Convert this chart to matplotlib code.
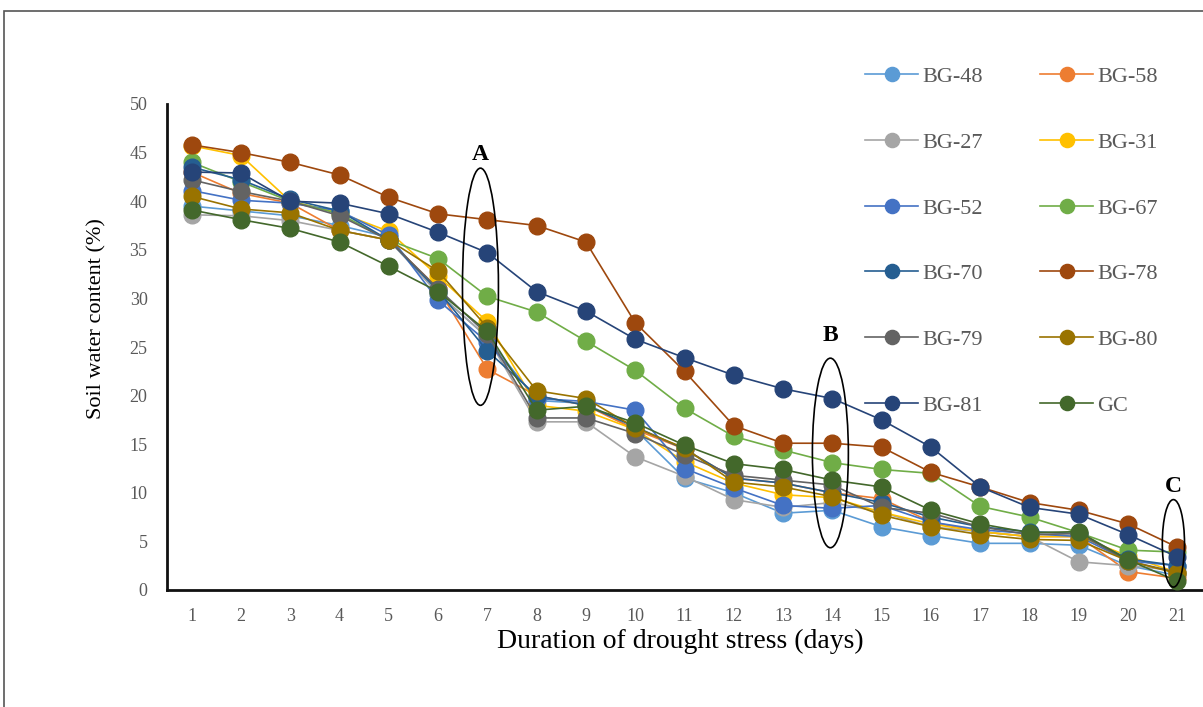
import numpy as np
import matplotlib
matplotlib.use("Agg")
import matplotlib.pyplot as plt
from matplotlib.patches import Ellipse, Rectangle

plt.rcParams["font.family"] = ["Liberation Serif", "DejaVu Serif"]

days = list(range(1, 22))

# soil water content (%) per genotype, days 1..21
bg48 = [39.5, 39.0, 38.5, 37.5, 36.3, 30.5, 26.0, 19.5, 19.2, 16.5, 11.5, 10.0, 7.9, 8.2, 6.5, 5.6, 4.8, 4.8, 4.6, 2.5, 1.5]
bg58 = [43.0, 40.8, 39.8, 37.0, 36.0, 31.0, 22.7, 20.0, 19.0, 16.5, 14.5, 11.5, 11.0, 10.0, 9.4, 7.0, 6.0, 5.5, 5.5, 1.9, 1.2]
bg27 = [38.6, 38.5, 38.0, 37.0, 36.0, 30.5, 26.0, 17.3, 17.3, 13.7, 11.7, 9.3, 8.5, 9.0, 8.0, 6.5, 6.0, 5.5, 2.9, 2.5, 2.0]
bg31 = [45.7, 44.7, 40.0, 38.8, 36.9, 32.3, 27.6, 19.0, 18.4, 16.5, 13.2, 11.0, 9.8, 9.5, 8.0, 6.8, 6.0, 5.5, 5.5, 3.5, 1.8]
bg52 = [41.1, 40.1, 39.8, 39.0, 36.5, 29.8, 25.5, 19.7, 19.4, 18.5, 12.5, 10.5, 8.7, 8.4, 8.7, 7.0, 6.2, 5.8, 5.5, 3.0, 2.5]
bg67 = [44.0, 42.0, 40.0, 38.7, 36.0, 34.1, 30.2, 28.6, 25.6, 22.6, 18.7, 15.8, 14.4, 13.1, 12.4, 12.0, 8.6, 7.5, 5.9, 4.1, 3.9]
bg70 = [43.5, 42.2, 40.2, 39.0, 36.0, 30.8, 24.6, 20.0, 19.0, 16.8, 14.5, 11.5, 11.0, 10.0, 9.0, 7.5, 6.5, 6.0, 5.8, 3.2, 2.5]
bg78 = [45.8, 45.0, 44.0, 42.7, 40.4, 38.7, 38.1, 37.5, 35.8, 27.5, 22.5, 16.9, 15.1, 15.1, 14.7, 12.1, 10.6, 9.0, 8.2, 6.8, 4.4]
bg79 = [42.2, 41.0, 40.0, 38.5, 36.0, 31.0, 26.3, 17.7, 17.7, 16.1, 13.9, 11.8, 11.3, 10.8, 8.5, 7.9, 6.5, 5.7, 5.8, 3.0, 1.8]
bg80 = [40.5, 39.2, 38.8, 37.0, 36.0, 32.8, 27.0, 20.5, 19.7, 16.7, 14.6, 11.1, 10.6, 9.6, 7.7, 6.5, 5.7, 5.2, 5.1, 3.0, 1.7]
bg81 = [43.0, 42.9, 40.0, 39.8, 38.7, 36.8, 34.7, 30.7, 28.7, 25.8, 23.9, 22.1, 20.7, 19.7, 17.5, 14.7, 10.6, 8.5, 7.8, 5.7, 3.4]
gc = [39.1, 38.1, 37.2, 35.8, 33.3, 30.7, 26.6, 18.5, 18.9, 17.2, 14.9, 13.0, 12.4, 11.3, 10.6, 8.2, 6.8, 5.9, 6.0, 3.1, 0.9]

labels = ["BG-48", "BG-58", "BG-27", "BG-31", "BG-52", "BG-67",
          "BG-70", "BG-78", "BG-79", "BG-80", "BG-81", "GC"]
series = [bg48, bg58, bg27, bg31, bg52, bg67, bg70, bg78, bg79, bg80, bg81, gc]
colors = ["#5B9BD5", "#ED7D31", "#A5A5A5", "#FFC000", "#4472C4", "#70AD47",
          "#255E91", "#9E480E", "#636363", "#997300", "#264478", "#43682B"]

fig = plt.figure(figsize=(12.03, 7.07), dpi=100)
ax = fig.add_axes([167 / 1203, 1 - 590 / 707, (1202 - 167) / 1203, (590 - 104) / 707])

handles = []
for i, (lab, vals, col) in enumerate(zip(labels, series, colors)):
    h, = ax.plot(days, vals, color=col, lw=1.2, marker="o", ms=12, mec=col, mfc=col,
                 label=lab, zorder=3 + i, clip_on=False)
    handles.append(h)

ax.set_xlim(0.5, 21.5)
ax.set_ylim(0, 50)
ax.set_xticks(days)
ax.set_xticklabels([str(d) for d in days])
ax.set_yticks(range(0, 51, 5))
ax.tick_params(axis="x", length=0, pad=13, labelsize=13, labelcolor="#595959")
ax.tick_params(axis="y", length=0, pad=14, labelsize=13, labelcolor="#595959")

for s in ["top", "right"]:
    ax.spines[s].set_visible(False)
for s in ["left", "bottom"]:
    ax.spines[s].set_linewidth(2)
    ax.spines[s].set_color("#111111")

ax.set_xlabel("Duration of drought stress (days)", fontsize=20)
ax.xaxis.label.set_va("center")
ax.xaxis.set_label_coords(0.4957, -0.1055)
ax.set_ylabel("Soil water content (%)", fontsize=16)
ax.yaxis.set_label_coords(-0.058, 0.558)

# highlighted sampling days
marks = [("A", 6.86, 31.2, 0.73, 24.4, 44.8),
         ("B", 13.96, 14.1, 0.73, 19.5, 26.2),
         ("C", 20.92, 4.8, 0.45, 9.0, 10.6)]
for txt, xc, yc, w, h, ty in marks:
    ax.add_patch(Ellipse((xc, yc), w, h, fill=False, ec="black", lw=1.2,
                         zorder=20, clip_on=False))
    ax.text(xc, ty, txt, ha="center", va="center",
            fontsize=17, fontweight="bold", zorder=21)

# legend filled row by row
order = [0, 2, 4, 6, 8, 10, 1, 3, 5, 7, 9, 11]
leg = ax.legend([handles[k] for k in order], [labels[k] for k in order],
                ncol=2, loc="upper left", bbox_to_anchor=(0.655, 1.118),
                frameon=False, fontsize=16, labelspacing=2.03, handlelength=2.4,
                handletextpad=0.18, columnspacing=2.57, markerscale=0.85)
for t in leg.get_texts():
    t.set_color("#595959")

# outer frame
fig.patches.append(Rectangle((4 / 1203, -0.1), 1.2, 1.1 - 11 / 707, transform=fig.transFigure,
                             fill=False, ec="#555555", lw=1.2))

fig.savefig("out.png", dpi=100)
